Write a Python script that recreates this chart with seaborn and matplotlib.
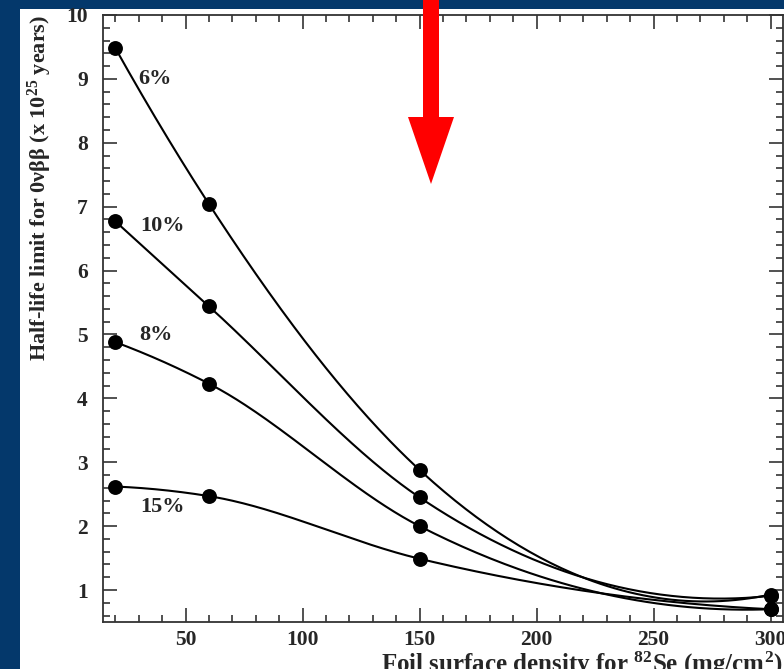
import matplotlib
matplotlib.use('Agg')
import matplotlib.pyplot as plt
import seaborn as sns
import numpy as np
import pandas as pd
from matplotlib.patches import Rectangle, Polygon
from matplotlib.ticker import MultipleLocator

# Data (foil density in mg/cm2, limit in 1e25 years)
density = [20, 60, 150, 300]
limit_6 = [9.48, 7.04, 2.88, 0.93]
limit_10 = [6.77, 5.44, 2.45, 0.91]
limit_8 = [4.88, 4.23, 2.00, 0.70]
limit_15 = [2.62, 2.47, 1.49, 0.70]
series_names = ['6%', '10%', '8%', '15%']
x_ticks = [50, 100, 150, 200, 250, 300]
y_ticks = [1, 2, 3, 4, 5, 6, 7, 8, 9, 10]


def smooth_curve(x, y, n=100):
    """Hermite cubic between points, slopes from the parabola through 3 neighbours (Bessel)"""
    x = np.asarray(x, float)
    y = np.asarray(y, float)
    m = len(x)
    slopes = np.zeros(m)
    for i in range(m):
        j = min(max(i - 1, 0), m - 3)  # 3-point window
        c = np.polyfit(x[j:j + 3], y[j:j + 3], 2)
        slopes[i] = np.polyval(np.polyder(c), x[i])
    xs_all, ys_all = [], []
    for i in range(m - 1):
        L = x[i + 1] - x[i]
        s = np.linspace(0, 1, n)
        h00 = 2 * s**3 - 3 * s**2 + 1
        h10 = s**3 - 2 * s**2 + s
        h01 = -2 * s**3 + 3 * s**2
        h11 = s**3 - s**2
        xs_all.append(x[i] + s * L)
        ys_all.append(h00 * y[i] + h10 * L * slopes[i] + h01 * y[i + 1] + h11 * L * slopes[i + 1])
    return np.concatenate(xs_all), np.concatenate(ys_all)


sns.set_style('ticks')
plt.rcParams['font.family'] = ['Liberation Serif', 'DejaVu Serif']
plt.rcParams['font.weight'] = 'bold'
plt.rcParams['mathtext.fontset'] = 'custom'
plt.rcParams['mathtext.rm'] = 'Liberation Serif:bold'
plt.rcParams['mathtext.it'] = 'Liberation Serif:italic:bold'
plt.rcParams['mathtext.bf'] = 'Liberation Serif:bold'

W, H = 784, 669
fig = plt.figure(figsize=(W / 100, H / 100), dpi=100, facecolor='#04386b')
fig.add_artist(Rectangle((20 / W, 0), 1, (H - 9) / H, transform=fig.transFigure,
                         facecolor='white', edgecolor='none', zorder=0))

ax = fig.add_axes([103 / W, (H - 622) / H, 680 / W, 607 / H])
ax.set_facecolor('white')

points = pd.DataFrame({
    'density': density * 4,
    'limit': limit_6 + limit_10 + limit_8 + limit_15,
    'series': np.repeat(series_names, len(density)),
})

for vals in [limit_6, limit_10, limit_8, limit_15]:
    xs, ys = smooth_curve(density, vals)
    sns.lineplot(x=xs, y=ys, color='black', linewidth=1.5, sort=False, ax=ax)

sns.scatterplot(data=points, x='density', y='limit', color='black', s=115,
                edgecolor='black', linewidth=0, legend=False, ax=ax, zorder=5)

# percentage labels next to each curve
label_pos = {'6%': (37, 9.0), '10%': (40, 6.69), '8%': (37.5, 4.99), '15%': (40, 2.30)}
for name, (lx, ly) in label_pos.items():
    ax.text(lx, ly, name, fontsize=16, fontweight='bold', ha='center', va='center')

ax.set_xlim(14.7, 305.3)
ax.set_ylim(0.5, 10)
ax.set_xticks(x_ticks)
ax.set_yticks(y_ticks)
ax.xaxis.set_minor_locator(MultipleLocator(10))
ax.yaxis.set_minor_locator(MultipleLocator(0.2))
ax.tick_params(which='both', direction='in', top=True, right=True, color='#333333', width=1.2)
ax.tick_params(which='major', length=10, labelsize=15.5)
ax.tick_params(axis='y', which='major', pad=11)
ax.tick_params(axis='x', which='major', pad=6)
ax.tick_params(which='minor', length=5)
for lab in ax.get_xticklabels() + ax.get_yticklabels():
    lab.set_fontweight('bold')
for sp in ax.spines.values():
    sp.set_color('#333333')
    sp.set_linewidth(1.3)

ax.set_xlabel('Foil surface density for $^{82}$Se (mg/cm$^{2}$)', fontsize=18,
              fontweight='bold', loc='right', labelpad=0)
ax.set_ylabel('Half-life limit for 0νββ (x 10$^{25}$ years)', fontsize=16,
              fontweight='bold', loc='top', labelpad=9)

# red arrow pointing down from the top
arrow_px = [(423, -2), (439, -2), (439, 117), (454, 117), (431, 184), (408, 117), (423, 117)]
fig.add_artist(Polygon([(px / W, 1 - py / H) for px, py in arrow_px], closed=True,
                       transform=fig.transFigure, facecolor='#ff0000', edgecolor='none', zorder=10))

fig.savefig('out.png', dpi=100, facecolor=fig.get_facecolor())
